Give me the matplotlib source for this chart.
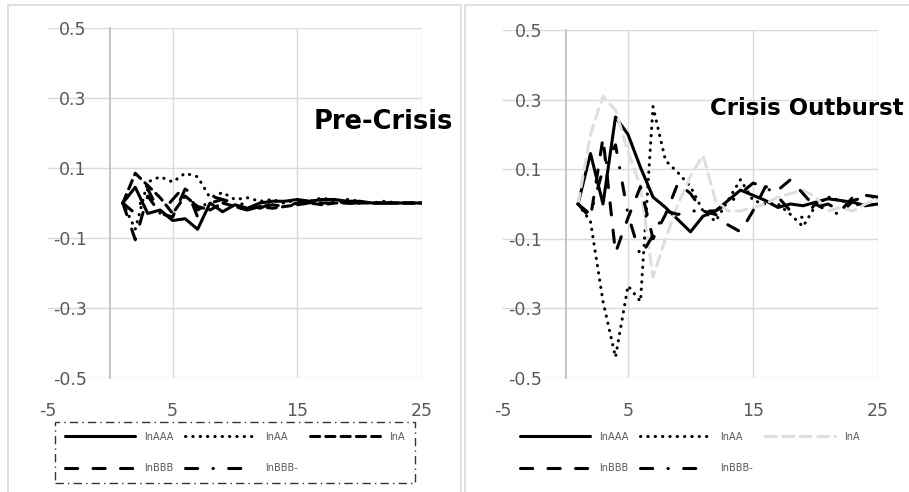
import matplotlib.pyplot as plt
from matplotlib.patches import Rectangle

# periods
periods = list(range(1, 26))
names = ["lnAAA", "lnAA", "lnA", "lnBBB", "lnBBB-"]

# pre-crisis responses
pre_AAA = [0.0, 0.045, -0.03, -0.02, -0.05, -0.045, -0.075, 0.0, -0.025, -0.005, -0.015, 0.0, 0.005,
           0.005, 0.01, 0.005, 0.01, 0.01, 0.005, 0.005, 0.0, 0.0, 0.0, 0.0, 0.0]
pre_AA = [0.0, -0.075, 0.06, 0.075, 0.06, 0.085, 0.075, 0.015, 0.03, 0.01, 0.015, 0.005, 0.01,
          0.0, 0.01, 0.005, 0.015, 0.005, 0.01, 0.005, 0.0, 0.005, 0.0, 0.0, 0.0]
pre_A = [0.0, 0.085, 0.05, 0.015, -0.03, 0.02, -0.01, -0.02, 0.0, -0.01, -0.02, -0.01, -0.015,
         -0.01, -0.005, 0.0, -0.005, 0.0, 0.0, 0.0, 0.0, 0.0, 0.0, 0.0, 0.0]
pre_BBB = [0.0, -0.105, 0.02, -0.03, -0.04, 0.04, -0.02, 0.0, 0.01, -0.01, -0.02, -0.01, -0.005,
           -0.01, 0.0, 0.005, 0.0, 0.0, 0.0, 0.0, 0.0, 0.0, 0.0, 0.0, 0.0]
pre_BBBm = [0.0, -0.03, 0.04, -0.03, 0.01, 0.05, -0.04, 0.02, 0.01, 0.0, -0.005, -0.015, 0.0,
            0.0, 0.005, 0.0, 0.01, 0.005, 0.0, 0.0, 0.0, 0.0, 0.0, 0.0, 0.0]

# crisis outburst responses
cri_AAA = [0.0, 0.145, 0.0, 0.25, 0.2, 0.105, 0.02, -0.01, -0.045, -0.08, -0.035, -0.02, 0.01,
           0.04, 0.025, 0.01, -0.01, 0.0, -0.005, 0.005, 0.015, 0.01, 0.005, -0.005, 0.0]
cri_AA = [0.0, -0.05, -0.28, -0.44, -0.235, -0.28, 0.28, 0.125, 0.09, 0.05, -0.02, -0.05, 0.01,
          0.07, 0.01, 0.0, 0.0, -0.03, -0.065, -0.005, 0.02, 0.01, 0.0, -0.005, 0.0]
cri_A = [0.0, 0.2, 0.31, 0.27, 0.15, 0.05, -0.21, -0.1, 0.0, 0.08, 0.14, 0.01, -0.02,
         -0.02, -0.01, 0.0, 0.02, 0.03, 0.04, 0.02, -0.02, -0.01, -0.02, 0.0, 0.015]
cri_BBB = [0.0, -0.04, 0.19, -0.14, -0.04, 0.05, -0.1, -0.03, 0.06, 0.03, -0.02, -0.03, -0.06,
           -0.08, -0.02, 0.05, 0.04, 0.07, 0.03, -0.01, 0.0, -0.02, 0.02, 0.025, 0.02]
cri_BBBm = [0.0, -0.03, 0.1, 0.17, -0.03, -0.15, -0.09, -0.02, -0.03, -0.02, -0.02, -0.02, 0.0,
            0.03, 0.06, 0.05, 0.02, -0.02, -0.04, 0.0, -0.02, -0.03, 0.01, 0.02, 0.02]

yticks = [-0.5, -0.3, -0.1, 0.1, 0.3, 0.5]
xticks = [-5, 5, 15, 25]

dot = (0, (0.1, 2.3))
shortdash = (0, (3, 2))
graydash = (0, (3.5, 2.2))
longdash = (0, (4, 5))
dashdot = (0, (4, 5, 0.1, 5))

pre_styles = [("black", "-"), ("black", dot), ("black", shortdash), ("black", longdash), ("black", dashdot)]
cri_styles = [("black", "-"), ("black", dot), ("#dedede", graydash), ("black", longdash), ("black", dashdot)]

W, H = 909, 492
fig = plt.figure(figsize=(9.09, 4.92), dpi=100)

# chart frames (light grey border like the spreadsheet charts)
fig.patches.append(Rectangle((8 / W, -0.1), (461 - 8) / W, 1.1 - 5 / H, transform=fig.transFigure,
                             fill=False, edgecolor="#d9d9d9", lw=1.2))
fig.patches.append(Rectangle((465 / W, -0.1), 0.5, 1.1 - 5 / H, transform=fig.transFigure,
                             fill=False, edgecolor="#d9d9d9", lw=1.2))


def make_panel(box, series, styles, title, tpos, tsize):
    ax = fig.add_axes(box)
    ax.set_xlim(-5, 25)
    ax.set_ylim(-0.5, 0.5)
    for s in ["top", "right", "bottom"]:
        ax.spines[s].set_visible(False)
    ax.spines["left"].set_position(("data", 0))
    ax.spines["left"].set_color("#bfbfbf")
    ax.spines["left"].set_linewidth(1.3)
    ax.set_yticks(yticks)
    ax.set_yticklabels([f"{v:.1f}" for v in yticks])
    ax.set_xticks(xticks)
    ax.set_xticklabels([str(v) for v in xticks])
    ax.tick_params(axis="y", length=0, pad=17, labelsize=12.5, labelcolor="#595959")
    ax.tick_params(axis="x", length=0, pad=17, labelsize=12.5, labelcolor="#595959")
    ax.grid(True, color="#d9d9d9", lw=1.0)
    ax.xaxis.get_gridlines()[0].set_visible(False)
    ax.set_axisbelow(True)
    handles = []
    for vals, (c, ls), nm in zip(series, styles, names):
        h, = ax.plot(periods, vals, color=c, linestyle=ls, lw=2.2, label=nm,
                     dash_capstyle="round", solid_capstyle="round", solid_joinstyle="round")
        handles.append(h)
    ax.text(tpos[0], tpos[1], title, fontsize=tsize, fontweight="bold", ha="left", va="center",
            clip_on=False)
    return ax, handles


ax1, h1 = make_panel([48 / W, 1 - 378 / H, 374 / W, 350 / H],
                     [pre_AAA, pre_AA, pre_A, pre_BBB, pre_BBBm], pre_styles,
                     "Pre-Crisis", (16.3, 0.231), 18.5)
ax2, h2 = make_panel([503 / W, 1 - 378 / H, 375 / W, 348 / H],
                     [cri_AAA, cri_AA, cri_A, cri_BBB, cri_BBBm], cri_styles,
                     "Crisis Outburst", (11.6, 0.274), 16.5)

order = [0, 3, 1, 4, 2]
for hs, x0, frame in [(h1, 55, True), (h2, 510, False)]:
    leg = fig.legend([hs[i] for i in order], [names[i] for i in order], ncol=3,
                     loc="upper left", bbox_to_anchor=(x0 / W, 1 - 422 / H), borderaxespad=0,
                     fontsize=7, labelcolor="#595959", handlelength=7.2, handletextpad=1.0,
                     columnspacing=1.2, labelspacing=2.2, borderpad=1.0,
                     frameon=frame, fancybox=False)
    if frame:
        fr = leg.get_frame()
        fr.set_edgecolor("black")
        fr.set_linewidth(1.0)
        fr.set_linestyle((0, (6, 3, 1, 3)))

fig.savefig("out.png", dpi=100)
